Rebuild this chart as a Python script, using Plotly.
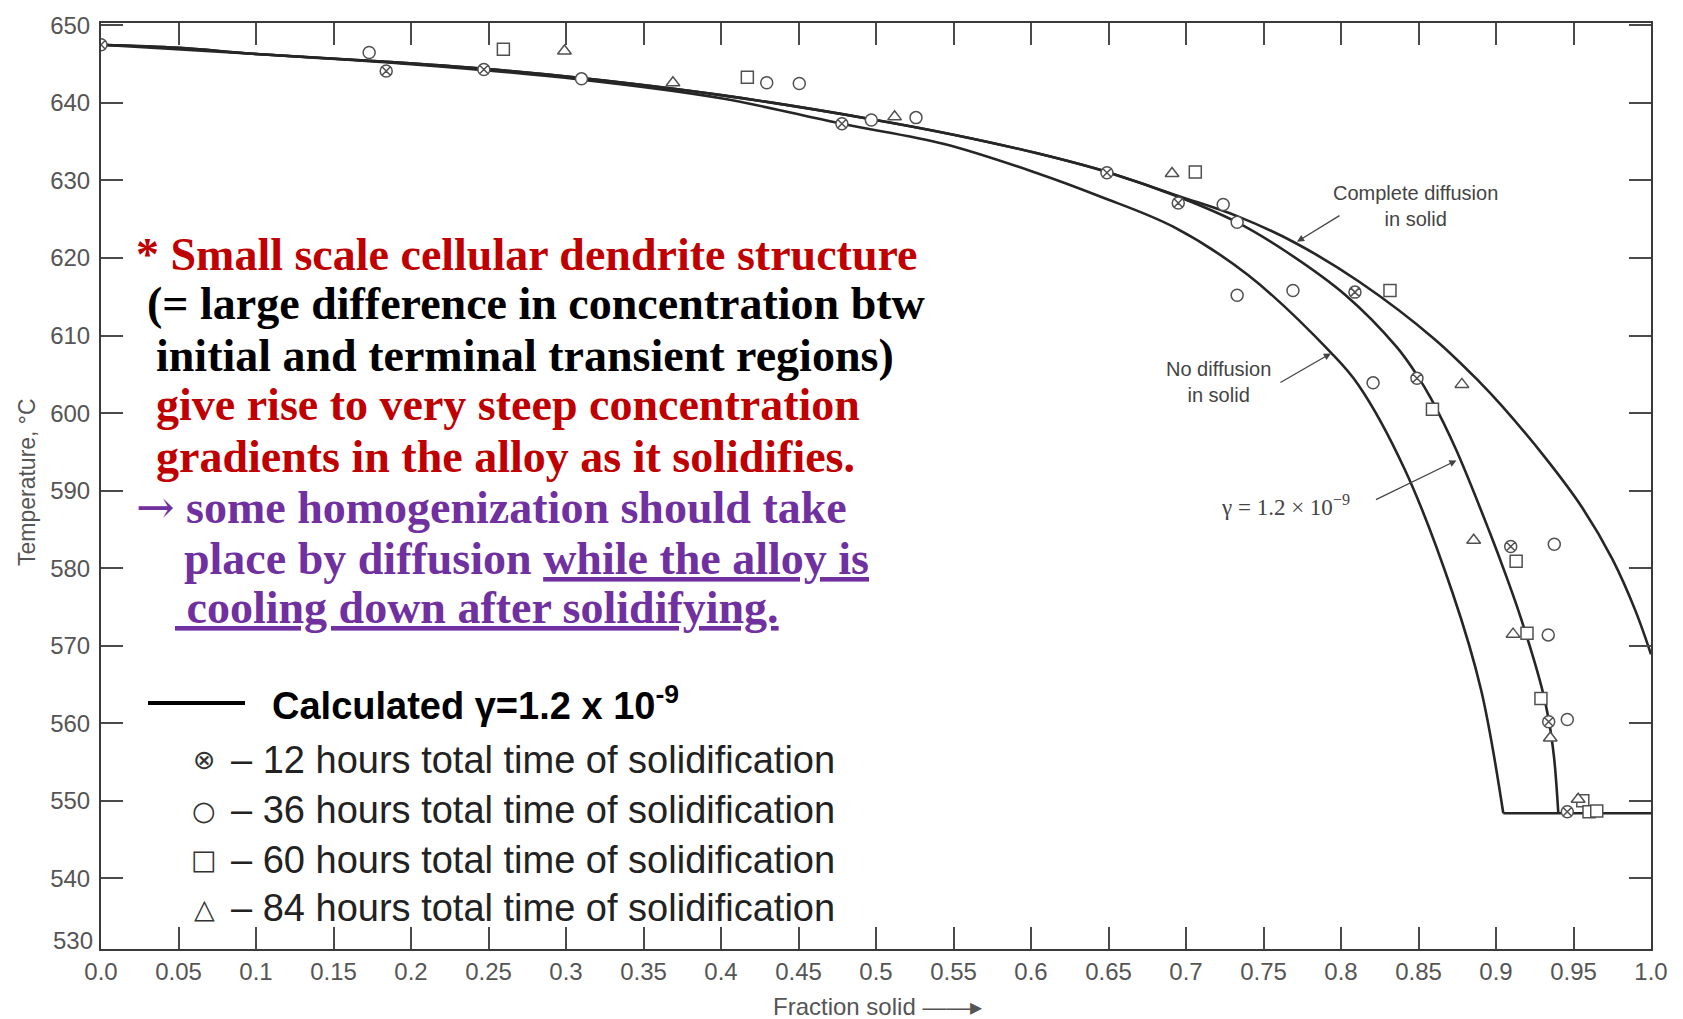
import plotly.graph_objects as go

# ---------------- data ----------------
# Complete diffusion in solid (equilibrium)
x_eq = [0.0, 0.05, 0.10, 0.184, 0.247, 0.31, 0.40, 0.497, 0.55, 0.604, 0.649, 0.695,
        0.733, 0.77, 0.812, 0.86, 0.889, 0.9035, 0.932, 0.955, 0.975, 0.99, 1.0]
T_eq = [647.5, 647.1, 646.3, 645.3, 644.4, 643.2, 641.0, 637.9, 635.9, 633.5, 631.1, 628.0,
        625.4, 622.0, 616.9, 609.6, 604.1, 601.0, 594.2, 588.0, 581.2, 574.5, 568.9]

# Calculated gamma = 1.2e-9
x_g = [0.0, 0.05, 0.10, 0.184, 0.247, 0.31, 0.40, 0.497, 0.55, 0.604, 0.649, 0.695,
       0.733, 0.764, 0.803, 0.836, 0.849, 0.858, 0.874, 0.896, 0.906, 0.916, 0.9295,
       0.934, 0.9375, 0.9402]
T_g = [647.5, 647.1, 646.3, 645.3, 644.4, 643.2, 641.0, 637.9, 635.9, 633.5, 631.1, 627.9,
       624.6, 620.9, 615.2, 608.5, 604.9, 601.9, 595.4, 584.6, 579.3, 573.6, 564.6,
       560.5, 555.5, 548.4]

# No diffusion in solid (Scheil)
x_s = [0.0, 0.10, 0.20, 0.31, 0.40, 0.478, 0.544, 0.6045, 0.645, 0.692, 0.74, 0.7935,
       0.811, 0.841, 0.872, 0.8905, 0.9047]
T_s = [647.5, 646.3, 645.0, 643.0, 640.6, 637.3, 634.7, 630.9, 627.9, 624.0, 617.8, 607.8,
       603.7, 592.8, 576.8, 564.2, 548.4]

# Eutectic plateau
x_eut = [0.9047, 1.0]
T_eut = [548.4, 548.4]

# Experimental points
x12 = [0.0, 0.184, 0.247, 0.478, 0.649, 0.695, 0.809, 0.849, 0.9095, 0.934, 0.946]
T12 = [647.5, 644.1, 644.3, 637.3, 631.0, 627.1, 615.6, 604.5, 582.8, 560.2, 548.6]

x36 = [0.173, 0.310, 0.4295, 0.4505, 0.497, 0.5258, 0.724, 0.733, 0.733, 0.769, 0.8207,
       0.9376, 0.9337, 0.946]
T36 = [646.5, 643.1, 642.6, 642.5, 637.8, 638.1, 626.9, 624.6, 615.2, 615.8, 603.9,
       583.1, 571.4, 560.5]

x60 = [0.2596, 0.417, 0.706, 0.8316, 0.859, 0.913, 0.920, 0.929, 0.956, 0.960, 0.965]
T60 = [646.9, 643.3, 631.1, 615.8, 600.5, 580.9, 571.6, 563.2, 550.0, 548.6, 548.7]

x84 = [0.299, 0.369, 0.512, 0.691, 0.878, 0.8856, 0.911, 0.935, 0.953]
T84 = [646.7, 642.6, 638.2, 630.9, 603.7, 583.6, 571.5, 558.1, 550.2]

# Tick labels
x_tickvals = [0.0, 0.05, 0.1, 0.15, 0.2, 0.25, 0.3, 0.35, 0.4, 0.45, 0.5, 0.55, 0.6, 0.65,
              0.7, 0.75, 0.8, 0.85, 0.9, 0.95, 1.0]
x_ticktext = ["0.0", "0.05", "0.1", "0.15", "0.2", "0.25", "0.3", "0.35", "0.4", "0.45", "0.5",
              "0.55", "0.6", "0.65", "0.7", "0.75", "0.8", "0.85", "0.9", "0.95", "1.0"]
y_tickvals = [540, 550, 560, 570, 580, 590, 600, 610, 620, 630, 640, 650]
y_ticktext = ["540", "550", "560", "570", "580", "590", "600", "610", "620", "630", "640", "650"]
y_bottom_label = "530"

legend_labels = ["– 12 hours total time of solidification",
                 "– 36 hours total time of solidification",
                 "– 60 hours total time of solidification",
                 "– 84 hours total time of solidification"]
legend_symbols = ["⊗", "○", "□", "△"]

# ---------------- layout geometry ----------------
W_FIG, H_FIG = 1683, 1019
ML, MR, MT, MB = 101, 32, 15, 70
PW = W_FIG - ML - MR
PH = H_FIG - MT - MB


def px(x):
    return (x - ML) / PW


def py(y):
    return (H_FIG - MB - y) / PH


CURVE = "#262626"
MARK = "#505050"
GRAY = "#555555"
SANS = "Liberation Sans, Arial, sans-serif"
SERIF = "Liberation Serif, Times New Roman, serif"

fig = go.Figure()

for xs, ys in [(x_eq, T_eq), (x_g, T_g), (x_s, T_s)]:
    fig.add_trace(go.Scatter(x=xs, y=ys, mode="lines", showlegend=False,
                             line=dict(color=CURVE, width=2.6, shape="spline", smoothing=1.0)))
fig.add_trace(go.Scatter(x=x_eut, y=T_eut, mode="lines", showlegend=False,
                         line=dict(color=CURVE, width=2.6)))

for xs, ys, sym in [(x12, T12, "circle-x"), (x36, T36, "circle"),
                    (x60, T60, "square"), (x84, T84, "triangle-up")]:
    fig.add_trace(go.Scatter(x=xs, y=ys, mode="markers", showlegend=False,
                             marker=dict(symbol=sym, size=12, color="white",
                                         line=dict(color=MARK, width=1.5))))

axis_common = dict(showline=True, linecolor="#3a3a3a", linewidth=2, mirror="ticks",
                   ticks="inside", ticklen=22, tickwidth=1.5, tickcolor="#4a4a4a",
                   showgrid=False, zeroline=False,
                   tickfont=dict(family=SANS, size=24, color=GRAY))

fig.update_xaxes(range=[0, 1.0], tickvals=x_tickvals, ticktext=x_ticktext, **axis_common)
fig.update_yaxes(range=[530.9, 650.3], tickvals=y_tickvals, ticktext=y_ticktext,
                 ticklabelstandoff=4, **axis_common)

ann = []
# bottom "530" label at the axis corner
ann.append(dict(xref="paper", yref="paper", x=0, y=py(940), xanchor="right", yanchor="middle",
                xshift=-6, text=y_bottom_label, showarrow=False,
                font=dict(family=SANS, size=24, color=GRAY)))

# axis titles
ann.append(dict(xref="paper", yref="paper", x=px(27), y=py(478), textangle=-90,
                text="Temperature, °C", showarrow=False, xanchor="center", yanchor="middle",
                font=dict(family=SANS, size=23, color=GRAY)))
ann.append(dict(xref="paper", yref="paper", x=px(771), y=py(1007), xanchor="left",
                yanchor="middle", text="Fraction solid ——▸", showarrow=False,
                font=dict(family=SANS, size=24, color=GRAY)))

# curve labels
lab_font = dict(family=SANS, size=20, color="#444444")
ann.append(dict(xref="paper", yref="paper", x=px(1415), y=py(200), text="Complete diffusion<br>in solid",
                showarrow=False, font=lab_font, xanchor="center", yanchor="middle"))
ann.append(dict(xref="paper", yref="paper", x=px(1218), y=py(377), text="No diffusion<br>in solid",
                showarrow=False, font=lab_font, xanchor="center", yanchor="middle"))
ann.append(dict(xref="paper", yref="paper", x=px(1285), y=py(502),
                text="γ = 1.2 × 10<sup>−9</sup>", showarrow=False, xanchor="center", yanchor="middle",
                font=dict(family=SERIF, size=23, color="#444444")))

# arrows to curves
arrow_heads = [(0.7716, 622.1, 44, -27), (0.7935, 607.7, -52, 30), (0.8745, 593.9, -82, 40)]
for xh, yh, axp, ayp in arrow_heads:
    ann.append(dict(xref="x", yref="y", x=xh, y=yh, ax=axp, ay=ayp, text="", showarrow=True,
                    arrowhead=2, arrowsize=1.1, arrowwidth=1.3, arrowcolor="#444444", standoff=0))

# explanatory text
RED = "#c00000"
PURPLE = "#7030a0"
lines = [
    (134, 248, RED, "<b>* Small scale cellular dendrite structure</b>"),
    (145, 298, "#000000", "<b>(= large difference in concentration btw</b>"),
    (154, 350, "#000000", "<b>initial and terminal transient regions)</b>"),
    (154, 400, RED, "<b>give rise to very steep concentration</b>"),
    (154, 452, RED, "<b>gradients in the alloy as it solidifies.</b>"),
    (134, 503, PURPLE, "<span style=\"font-family:DejaVu Serif\">→</span><b> some homogenization should take</b>"),
    (182, 555, PURPLE, "<b>place by diffusion <u>while the alloy is</u></b>"),
    (173, 605, PURPLE, "<b><u>\u00a0cooling down after solidifying.</u></b>"),
]
for lx, ly, col, txt in lines:
    ann.append(dict(xref="paper", yref="paper", x=px(lx), y=py(ly), xanchor="left",
                    yanchor="middle", text=txt, showarrow=False,
                    font=dict(family=SERIF, size=46, color=col)))

# legend block
ann.append(dict(xref="paper", yref="paper", x=px(270), y=py(701), xanchor="left", yanchor="middle",
                text="<b>Calculated γ=1.2 x 10<sup>-9</sup></b>", showarrow=False,
                font=dict(family=SANS, size=38, color="#000000")))
legend_rows_y = [758, 809, 859, 908]
for sym, lab, ly in zip(legend_symbols, legend_labels, legend_rows_y):
    ann.append(dict(xref="paper", yref="paper", x=px(204), y=py(ly), xanchor="center",
                    yanchor="middle", text=sym, showarrow=False,
                    font=dict(family="DejaVu Sans, sans-serif", size=27, color="#333333")))
    ann.append(dict(xref="paper", yref="paper", x=px(229), y=py(ly), xanchor="left",
                    yanchor="middle", text=lab, showarrow=False,
                    font=dict(family=SANS, size=38, color="#222222")))

shapes = [dict(type="line", xref="paper", yref="paper", x0=px(148), x1=px(245),
               y0=py(701), y1=py(701), line=dict(color="#000000", width=4))]

fig.update_layout(width=W_FIG, height=H_FIG,
                  margin=dict(l=ML, r=MR, t=MT, b=MB, pad=0),
                  paper_bgcolor="white", plot_bgcolor="white",
                  annotations=ann, shapes=shapes, showlegend=False)

fig.write_html("out.html")
